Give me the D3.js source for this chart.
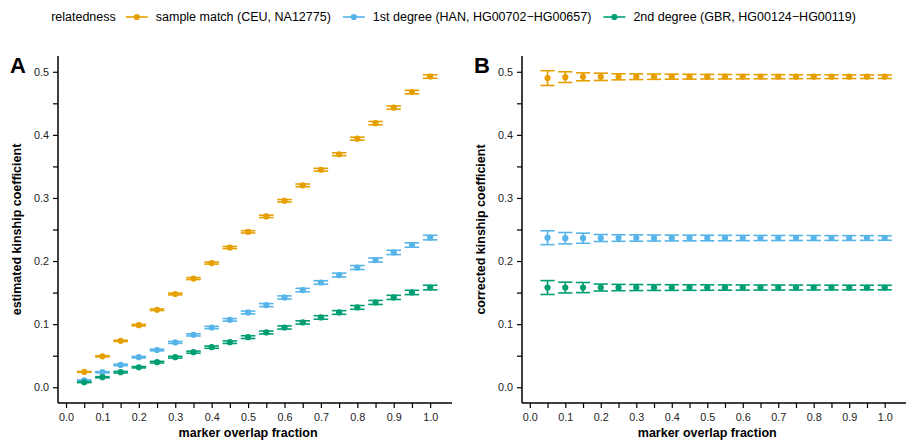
<!DOCTYPE html>
<html>
<head>
<meta charset="utf-8">
<script src="https://cdn.jsdelivr.net/npm/d3@7"></script>
<style>
  body { margin: 0; background: #fff; }
  svg text { font-family: "Liberation Sans", Arial, sans-serif; }
  .tick text { fill: #222; font-size: 10.8px; }
  .axis path, .axis line { stroke: #000; }
</style>
</head>
<body>
<svg id="chart" width="907" height="442"></svg>
<script>
// marker overlap fractions
var overlap = [0.05,0.1,0.15,0.2,0.25,0.3,0.35,0.4,0.45,0.5,0.55,0.6,0.65,0.7,0.75,0.8,0.85,0.9,0.95,1.0];

var seriesNames = ["sample match (CEU, NA12775)", "1st degree (HAN, HG00702\u2212HG00657)", "2nd degree (GBR, HG00124\u2212HG00119)"];
var seriesColors = ["#E69F00", "#56B4E9", "#009E73"];

// panel A: estimated kinship
var estMatch  = [0.0243,0.0490,0.0735,0.0984,0.1228,0.1478,0.1722,0.1968,0.2215,0.2463,0.2708,0.2955,0.3200,0.3447,0.3693,0.3940,0.4186,0.4432,0.4678,0.4925];
var estFirst  = [0.0110,0.0238,0.0354,0.0476,0.0590,0.0710,0.0830,0.0947,0.1068,0.1185,0.1302,0.1423,0.1540,0.1660,0.1778,0.1897,0.2016,0.2136,0.2254,0.2372];
var estSecond = [0.0079,0.0159,0.0238,0.0317,0.0397,0.0476,0.0556,0.0635,0.0714,0.0794,0.0868,0.0947,0.1027,0.1106,0.1185,0.1265,0.1344,0.1424,0.1502,0.1580];
var errAMatch  = [0.0006,0.0009,0.0009,0.0012,0.0012,0.0014,0.0015,0.0016,0.0017,0.0018,0.0019,0.0020,0.0021,0.0022,0.0023,0.0024,0.0026,0.0026,0.0027,0.0028];
var errAFirst  = [0.0006,0.0009,0.0012,0.0011,0.0013,0.0015,0.0017,0.0018,0.0020,0.0022,0.0024,0.0025,0.0027,0.0028,0.0030,0.0031,0.0032,0.0034,0.0035,0.0036];
var errASecond = [0.0006,0.0009,0.0012,0.0011,0.0013,0.0014,0.0016,0.0018,0.0020,0.0022,0.0023,0.0025,0.0026,0.0028,0.0029,0.0030,0.0032,0.0033,0.0034,0.0036];

// panel B: corrected kinship
var corMatch  = [0.4900,0.4915,0.4920,0.4920,0.4920,0.4922,0.4922,0.4922,0.4922,0.4922,0.4922,0.4922,0.4922,0.4922,0.4922,0.4922,0.4922,0.4922,0.4922,0.4922];
var corFirst  = [0.2370,0.2362,0.2362,0.2365,0.2365,0.2365,0.2365,0.2365,0.2365,0.2365,0.2365,0.2365,0.2365,0.2365,0.2365,0.2365,0.2365,0.2365,0.2365,0.2365];
var corSecond = [0.1580,0.1580,0.1580,0.1580,0.1580,0.1580,0.1580,0.1580,0.1580,0.1580,0.1580,0.1580,0.1580,0.1580,0.1580,0.1580,0.1580,0.1580,0.1580,0.1580];
var errBMatch  = [0.0117,0.0085,0.0063,0.0058,0.0048,0.0045,0.0042,0.0040,0.0038,0.0036,0.0035,0.0034,0.0033,0.0032,0.0031,0.0030,0.0030,0.0029,0.0028,0.0028];
var errBFirst  = [0.0110,0.0090,0.0080,0.0055,0.0052,0.0050,0.0048,0.0046,0.0045,0.0044,0.0043,0.0042,0.0041,0.0040,0.0040,0.0039,0.0038,0.0038,0.0037,0.0036];
var errBSecond = [0.0110,0.0085,0.0080,0.0055,0.0050,0.0048,0.0046,0.0045,0.0044,0.0043,0.0042,0.0041,0.0040,0.0040,0.0039,0.0038,0.0038,0.0037,0.0036,0.0036];

// ticks every 0.05, labelled every 0.1
var xTicks = [0,0.05,0.1,0.15,0.2,0.25,0.3,0.35,0.4,0.45,0.5,0.55,0.6,0.65,0.7,0.75,0.8,0.85,0.9,0.95,1.0];
var yTicks = [0,0.05,0.1,0.15,0.2,0.25,0.3,0.35,0.4,0.45,0.5];

var svg = d3.select('#chart');

function buildSeries(vals, errs) {
  return vals.map(function(v, i) {
    return { x: overlap[i], y: v, e: errs[i] };
  });
}

function tickLabel(d) {
  return Math.round(d * 100) % 10 == 0 ? d3.format('.1f')(d) : '';
}

function drawPanel(opts) {
  var x = d3.scaleLinear().domain([-0.022, 1.06]).range([opts.left, opts.right]);
  var y = d3.scaleLinear().domain([-0.025, 0.525]).range([403, 56]);
  var g = svg.append('g');

  var xAxis = d3.axisBottom(x).tickValues(xTicks).tickSize(5).tickPadding(4).tickFormat(tickLabel);
  var yAxis = d3.axisLeft(y).tickValues(yTicks).tickSize(5).tickPadding(4).tickFormat(tickLabel);

  var gx = g.append('g').attr('class', 'axis')
    .attr('transform', 'translate(0,403)')
    .call(xAxis);
  var gy = g.append('g').attr('class', 'axis')
    .attr('transform', 'translate(' + opts.left + ',0)')
    .call(yAxis);
  [gx, gy].forEach(function(a) {
    a.select('.domain').remove();
    a.selectAll('.tick line').attr('stroke-width', 1.2);
  });
  gx.selectAll('.tick text').attr('dy', '0.85em');

  // axis lines
  g.append('line').attr('x1', opts.left).attr('x2', opts.right)
    .attr('y1', 403).attr('y2', 403).attr('stroke', '#000').attr('stroke-width', 1.5);
  g.append('line').attr('x1', opts.left).attr('x2', opts.left)
    .attr('y1', 56).attr('y2', 403).attr('stroke', '#000').attr('stroke-width', 1.5);

  opts.series.forEach(function(s, k) {
    var col = seriesColors[k];
    var sg = g.append('g');
    var data = buildSeries(s.vals, s.errs);
    sg.selectAll('line.v').data(data).enter().append('line')
      .attr('x1', function(d) { return x(d.x); })
      .attr('x2', function(d) { return x(d.x); })
      .attr('y1', function(d) { return y(d.y - d.e); })
      .attr('y2', function(d) { return y(d.y + d.e); })
      .attr('stroke', col).attr('stroke-width', 1.6);
    ['lo', 'hi'].forEach(function(side) {
      sg.selectAll('line.' + side).data(data).enter().append('line')
        .attr('class', side)
        .attr('x1', function(d) { return x(d.x - 0.02); })
        .attr('x2', function(d) { return x(d.x + 0.02); })
        .attr('y1', function(d) { return y(side == 'lo' ? d.y - d.e : d.y + d.e); })
        .attr('y2', function(d) { return y(side == 'lo' ? d.y - d.e : d.y + d.e); })
        .attr('stroke', col).attr('stroke-width', 1.6);
    });
    sg.selectAll('circle').data(data).enter().append('circle')
      .attr('cx', function(d) { return x(d.x); })
      .attr('cy', function(d) { return y(d.y); })
      .attr('r', 3.1)
      .attr('fill', col);
  });

  // titles
  g.append('text').attr('x', (x(0) + x(1)) / 2).attr('y', 437)
    .attr('text-anchor', 'middle').attr('font-size', 12.5).attr('font-weight', 'bold')
    .text('marker overlap fraction');
  g.append('text')
    .attr('transform', 'translate(' + (opts.left - 37) + ',' + ((y(0) + y(0.5)) / 2) + ') rotate(-90)')
    .attr('text-anchor', 'middle').attr('font-size', 12.5).attr('font-weight', 'bold')
    .text(opts.ytitle);
  g.append('text').attr('x', opts.left - 48).attr('y', 73)
    .attr('font-size', 22).attr('font-weight', 'bold')
    .text(opts.tag);
}

drawPanel({
  left: 58, right: 452, tag: 'A', ytitle: 'estimated kinship coefficient',
  series: [
    { vals: estMatch, errs: errAMatch },
    { vals: estFirst, errs: errAFirst },
    { vals: estSecond, errs: errASecond }
  ]
});

drawPanel({
  left: 522, right: 906, tag: 'B', ytitle: 'corrected kinship coefficient',
  series: [
    { vals: corMatch, errs: errBMatch },
    { vals: corFirst, errs: errBFirst },
    { vals: corSecond, errs: errBSecond }
  ]
});

// legend, laid out from measured text widths and centred
var legend = svg.append('g');
var fs = 12.5;
var title = legend.append('text').attr('x', 0).attr('y', 4).attr('font-size', fs).text('relatedness');
var cursor = title.node().getComputedTextLength() + 10;
seriesNames.forEach(function(name, i) {
  var kg = legend.append('g').attr('transform', 'translate(' + cursor + ',0)');
  kg.append('line').attr('x1', 0).attr('x2', 22).attr('y1', 0).attr('y2', 0)
    .attr('stroke', seriesColors[i]).attr('stroke-width', 1.6);
  kg.append('circle').attr('cx', 11).attr('cy', 0).attr('r', 3.1).attr('fill', seriesColors[i]);
  var t = kg.append('text').attr('x', 30).attr('y', 4).attr('font-size', fs).text(name);
  cursor += 30 + t.node().getComputedTextLength() + 12;
});
var legendWidth = cursor - 12;
legend.attr('transform', 'translate(' + ((907 - legendWidth) / 2) + ',17)');
</script>
</body>
</html>
